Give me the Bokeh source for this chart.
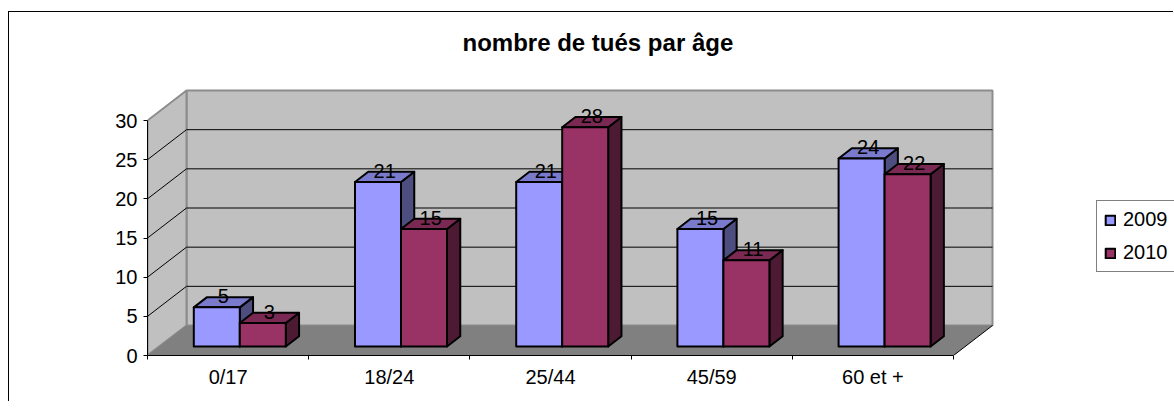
from bokeh.plotting import figure
from bokeh.models import Range1d, FixedTicker, Legend, LegendItem
from bokeh.embed import file_html
from bokeh.resources import INLINE
from bokeh.core.properties import value

# ---------------- data ----------------
categories = ["0/17", "18/24", "25/44", "45/59", "60 et +"]
series_names = ["2009", "2010"]
values_2009 = [5, 21, 21, 15, 24]
values_2010 = [3, 15, 28, 11, 22]
y_ticks = [0, 5, 10, 15, 20, 25, 30]
title_text = "nombre de tués par âge"

# ---------------- style / layout ----------------
FONT = "Liberation Sans"
front_colors = ["#9999FF", "#993366"]
top_colors = ["#7A7ACC", "#7A2952"]
side_colors = ["#4D4D80", "#4D1A33"]

PX_X = 161.2      # px per category on the front plane
PX_Y = 7.833      # px per value unit
DX = 39 / PX_X    # depth offset of the back wall (x, data units)
DY = 30 / PX_Y    # depth offset of the back wall (y, data units)
F0 = 0.30         # depth fraction of bar front faces
FD = 0.34         # depth fraction of bar thickness
W = 46 / PX_X     # bar width (data units)

frame_w = 1174 - 147
frame_h = 355 - 60

p = figure(width=1165, height=390, output_backend="svg", toolbar_location=None,
           x_range=Range1d(0, frame_w / PX_X), y_range=Range1d(0, frame_h / PX_Y),
           min_border_left=138, min_border_right=0, min_border_top=48, min_border_bottom=47,
           outline_line_color=None, background_fill_color="white", border_fill_color="white")
p.grid.visible = False
p.styles = {"border-left": "1px solid black", "border-top": "1px solid black",
            "margin-top": "11px", "margin-left": "8px"}

n = len(categories)
ymax = y_ticks[-1]

# walls and floor
p.patch([DX, DX, n + DX, n + DX], [DY, ymax + DY, ymax + DY, DY],
        fill_color="#C0C0C0", line_color="#8C8C8C", line_width=2)
p.patch([0, 0, DX, DX], [0, ymax, ymax + DY, DY],
        fill_color="#C0C0C0", line_color="#8C8C8C", line_width=2)
p.patch([0, n, n + DX, DX], [0, 0, DY, DY], fill_color="#808080", line_color=None)
p.line([n, n + DX], [0, DY], line_color="black", line_width=1)

gy = y_ticks[1:-1]
p.multi_line(xs=[[0, DX, n + DX] for _ in gy], ys=[[t, t + DY, t + DY] for t in gy],
             line_color="black", line_width=1)

# bars
a = F0 * DX
b = (F0 + FD) * DX
ya = F0 * DY
yb = (F0 + FD) * DY
front_renderers = []
for s, vals in enumerate([values_2009, values_2010]):
    fx, fy, tx, ty, sx, sy = [], [], [], [], [], []
    lx, ly, lt = [], [], []
    for i, v in enumerate(vals):
        x0 = i + 0.5 - W + s * W
        x1 = x0 + W
        fx.append([x0 + a, x1 + a, x1 + a, x0 + a])
        fy.append([ya, ya, ya + v, ya + v])
        tx.append([x0 + a, x1 + a, x1 + b, x0 + b])
        ty.append([ya + v, ya + v, yb + v, yb + v])
        sx.append([x1 + a, x1 + b, x1 + b, x1 + a])
        sy.append([ya, yb, yb + v, ya + v])
        lx.append(x0 + W / 2 + (a + b) / 2)
        ly.append((ya + yb) / 2 + v)
        lt.append(str(v))
    p.patches(sx, sy, fill_color=side_colors[s], line_color="black", line_width=2, line_join="round")
    p.patches(tx, ty, fill_color=top_colors[s], line_color="black", line_width=2, line_join="round")
    r = p.patches(fx, fy, fill_color=front_colors[s], line_color="black", line_width=2, line_join="round")
    front_renderers.append(r)
    p.text(x=lx, y=ly, text=lt, text_align="center", text_baseline="alphabetic", y_offset=-6,
           text_font=value(FONT), text_font_size="20px", text_color="black")

# axes
yax = p.yaxis[0]
yax.ticker = FixedTicker(ticks=y_ticks, minor_ticks=[])
yax.bounds = (0, ymax)
yax.major_tick_out = 4
yax.major_tick_in = 0
yax.minor_tick_out = 0
yax.minor_tick_in = 0
yax.axis_line_color = "black"
yax.major_tick_line_color = "black"
yax.major_label_text_font = FONT
yax.major_label_text_font_size = "20px"
yax.major_label_text_color = "black"
yax.major_label_standoff = 6

xax = p.xaxis[0]
xax.ticker = FixedTicker(ticks=[i + 0.5 for i in range(n)], minor_ticks=list(range(n + 1)))
xax.bounds = (0, n)
xax.major_tick_out = 0
xax.major_tick_in = 0
xax.minor_tick_out = 4
xax.minor_tick_in = 0
xax.minor_tick_line_color = "black"
xax.axis_line_color = "black"
xax.major_label_overrides = {i + 0.5: c for i, c in enumerate(categories)}
xax.major_label_text_font = FONT
xax.major_label_text_font_size = "20px"
xax.major_label_text_color = "black"
xax.major_label_standoff = 6

# title
p.title.text = title_text
p.title.align = "left"
p.title.offset = 315
p.title.text_font = FONT
p.title.text_font_size = "24px"
p.title.text_font_style = "bold"
p.title.text_color = "black"
p.title.standoff = 10

# legend
legend = Legend(items=[LegendItem(label=series_names[k], renderers=[front_renderers[k]]) for k in range(2)],
                location=(949, 83), orientation="vertical", padding=7, spacing=10,
                label_height=21, label_width=70, glyph_height=12, glyph_width=12,
                label_standoff=7, margin=0,
                border_line_color="black", border_line_width=1, background_fill_color="white",
                background_fill_alpha=1, label_text_font=FONT, label_text_font_size="20px",
                label_text_color="black")
p.add_layout(legend)

open("out.html", "w").write(file_html(p, INLINE))
